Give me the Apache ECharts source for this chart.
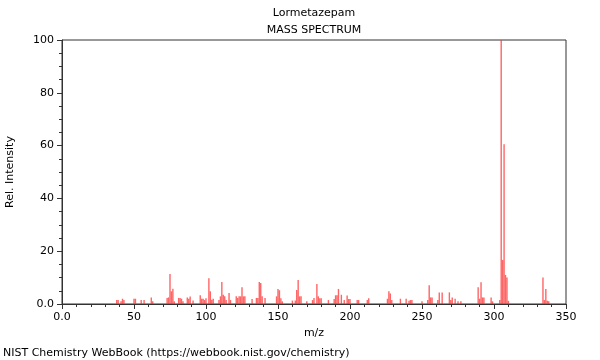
<!DOCTYPE html>
<html>
<head>
<meta charset="utf-8">
<script src="https://cdn.jsdelivr.net/npm/echarts@6/dist/echarts.min.js"></script>
<style>
html,body{margin:0;padding:0;background:#fff;}
#chart{width:600px;height:360px;}
</style>
</head>
<body>
<div id="chart"></div>
<script>
// m/z values and relative intensities
var mzValues = [38,39,41,42,43,50,51,55,57,62,63,73,74,75,76,77,78,81,82,83,84,87,88,89,91,96,97,98,99,100,102,103,104,105,109,110,111,112,113,114,116,117,121,122,123,124,125,126,127,132,135,136,137,138,139,141,149,150,151,152,153,160,162,163,164,165,166,170,174,175,177,178,179,180,185,189,190,191,192,194,196,198,199,200,205,206,212,213,226,227,228,229,235,239,241,242,243,250,254,255,256,257,261,262,264,269,270,271,273,275,277,289,290,291,292,293,298,299,304,305,306,307,308,309,310,334,335,336,337,338];
var intensities = [1.5,1.5,1,2,1.5,2,2,1.5,1.5,2.5,1,2.3,2.5,11.4,4.8,5.8,1,2.3,2.3,2,1,2.5,2,2.8,1.3,3.3,2,2,1.5,2.2,9.8,4.8,1.6,2,1.5,2.9,8.3,3.5,2.9,1.5,4.2,1.5,2.9,2.3,2.9,2.9,6.3,2.9,2.9,1.9,2.3,2.3,8.3,8,2.9,2.3,2.9,5.7,5.2,2.2,1,1.3,1.3,5.3,9.1,2.9,2.9,1,1.5,2.3,7.6,2.9,2.2,2.2,1.5,1.9,3.3,3.3,5.7,3.5,1.5,3.2,1.9,1.9,1.5,1.5,1.5,2.2,2,4.8,4,1.5,2,2,1.2,1.5,1.5,1,1.5,7.1,2.5,2.5,1.5,4.4,4.4,4.4,1.5,2.5,2,1,1,6.3,2,8.2,2.5,2.5,2.5,1,1.5,100,16.7,60.5,11,10,1.2,10,1.5,5.7,1.2,1];
var xTicks = {min: 0, max: 350, interval: 50};
var yTicks = {min: 0, max: 100, interval: 20};
var titleText = 'Lormetazepam';
var subtitleText = 'MASS SPECTRUM';
var footerText = 'NIST Chemistry WebBook (https://webbook.nist.gov/chemistry)';

var seriesData = mzValues.map(function (m, i) { return [m, intensities[i]]; });
var font = 'DejaVu Sans';
var axisColor = '#333';

var chart = echarts.init(document.getElementById('chart'), null, {renderer: 'canvas'});
chart.setOption({
  animation: false,
  backgroundColor: '#fff',
  grid: {left: 62, right: 34, top: 40, bottom: 56, show: true, borderColor: axisColor, borderWidth: 1,
         backgroundColor: 'transparent', containLabel: false, outerBoundsMode: 'none'},
  xAxis: {
    type: 'value', min: xTicks.min, max: xTicks.max, interval: xTicks.interval,
    name: 'm/z', nameLocation: 'middle', nameGap: 23,
    nameTextStyle: {fontFamily: font, fontSize: 11, color: '#000'},
    axisLine: {show: true, onZero: false, lineStyle: {color: axisColor}},
    axisTick: {show: true, length: 5, lineStyle: {color: axisColor}},
    minorTick: {show: true, splitNumber: 5, length: 3, lineStyle: {color: axisColor}},
    splitLine: {show: false},
    axisLabel: {fontFamily: font, fontSize: 11, color: '#000', margin: 8,
      formatter: function (v) { return v === 0 ? '0.0' : String(v); }}
  },
  yAxis: {
    type: 'value', min: yTicks.min, max: yTicks.max, interval: yTicks.interval,
    name: 'Rel. Intensity', nameLocation: 'middle', nameGap: 46,
    nameTextStyle: {fontFamily: font, fontSize: 11, color: '#000'},
    axisLine: {show: true, lineStyle: {color: axisColor}},
    axisTick: {show: true, length: 5, lineStyle: {color: axisColor}},
    minorTick: {show: true, splitNumber: 4, length: 3, lineStyle: {color: axisColor}},
    splitLine: {show: false},
    axisLabel: {fontFamily: font, fontSize: 11, color: '#000', margin: 8,
      formatter: function (v) { return v === 0 ? '0.0' : String(v); }}
  },
  series: [{
    type: 'bar', data: seriesData, barWidth: 1.4, barGap: '-100%',
    itemStyle: {color: 'rgba(255,50,50,0.75)'}
  }],
  graphic: [
    {type: 'text', x: 314, y: 13,
     style: {text: titleText, fontFamily: font, fontSize: 11, fill: '#000', align: 'center', verticalAlign: 'middle'}},
    {type: 'text', x: 314, y: 30,
     style: {text: subtitleText, fontFamily: font, fontSize: 11, fill: '#000', align: 'center', verticalAlign: 'middle'}},
    {type: 'text', x: 3, y: 353,
     style: {text: footerText, fontFamily: font, fontSize: 11, fill: '#000', align: 'left', verticalAlign: 'middle'}}
  ]
});
</script>
</body>
</html>
